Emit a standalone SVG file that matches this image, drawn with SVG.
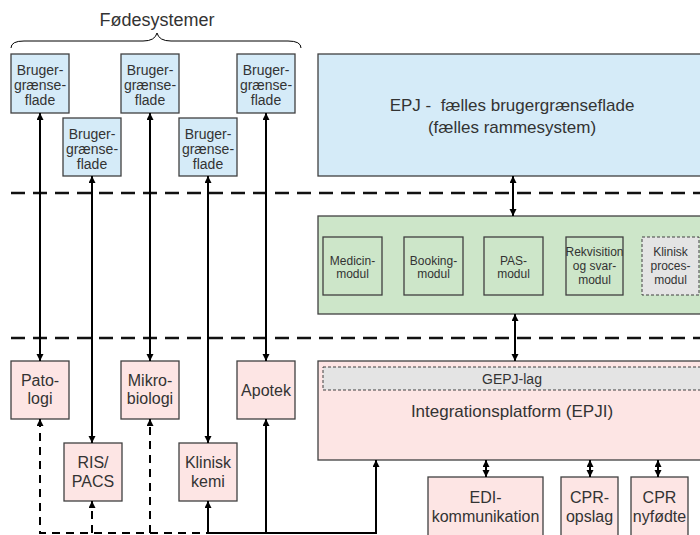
<svg xmlns="http://www.w3.org/2000/svg" width="700" height="535" viewBox="0 0 700 535">
<style>
text{font-family:"Liberation Sans",Arial,sans-serif;fill:#333;text-anchor:middle}
.b{fill:#d5ebf8;stroke:#404040;stroke-width:1.3}
.g{fill:#cde6c9;stroke:#404040;stroke-width:1.3}
.p{fill:#fde5e4;stroke:#404040;stroke-width:1.3}
.gd{fill:#e4e4e4;stroke:#404040;stroke-width:1;stroke-dasharray:3 2}
.t14{font-size:14px}.t16{font-size:16px}.t12{font-size:12px}.t17{font-size:17px}
.sep{stroke:#111;stroke-width:2.5;stroke-dasharray:14 8;fill:none}
.c{stroke:#000;stroke-width:2;fill:none}
.cd{stroke:#000;stroke-width:2;fill:none;stroke-dasharray:8 6}
</style>
<defs>
<marker id="a" markerUnits="userSpaceOnUse" markerWidth="8" markerHeight="8" refX="7" refY="3.5" orient="auto-start-reverse">
<path d="M0,0 L7,3.5 L0,7 z" fill="#000"/>
</marker>
</defs>

<text x="157" y="26" style="font-size:18px">Fødesystemer</text>
<path d="M11,48 Q11,41 24,41 L143,41 Q155,41 157,33 Q159,41 171,41 L288,41 Q301,41 301,48" fill="none" stroke="#000" stroke-width="1"/>

<g id="sep">
<line class="sep" x1="11" y1="193" x2="700" y2="193"/>
<line class="sep" x1="11" y1="338" x2="700" y2="338"/>
</g>

<g id="bg1"><rect class="b" x="11" y="54" width="58" height="59"/><text class="t14" x="40" y="75">Bruger-</text><text class="t14" x="40" y="90">grænse-</text><text class="t14" x="40" y="105">flade</text></g>
<g id="bg2"><rect class="b" x="63" y="118" width="58" height="58"/><text class="t14" x="92" y="139">Bruger-</text><text class="t14" x="92" y="154">grænse-</text><text class="t14" x="92" y="169">flade</text></g>
<g id="bg3"><rect class="b" x="121" y="54" width="58" height="59"/><text class="t14" x="150" y="75">Bruger-</text><text class="t14" x="150" y="90">grænse-</text><text class="t14" x="150" y="105">flade</text></g>
<g id="bg4"><rect class="b" x="179" y="118" width="58" height="58"/><text class="t14" x="208" y="139">Bruger-</text><text class="t14" x="208" y="154">grænse-</text><text class="t14" x="208" y="169">flade</text></g>
<g id="bg5"><rect class="b" x="237" y="54" width="58" height="59"/><text class="t14" x="266" y="75">Bruger-</text><text class="t14" x="266" y="90">grænse-</text><text class="t14" x="266" y="105">flade</text></g>

<g id="epj"><rect class="b" x="318" y="54" width="400" height="122"/><text class="t17" x="512" y="111" xml:space="preserve">EPJ -  fælles brugergrænseflade</text><text class="t17" x="512" y="133">(fælles rammesystem)</text></g>

<g id="moduler"><rect class="g" x="318" y="216" width="400" height="98"/></g>
<g id="medicin"><rect class="g" x="323" y="237" width="59" height="58"/><text class="t12" x="352.5" y="265">Medicin-</text><text class="t12" x="352.5" y="278">modul</text></g>
<g id="booking"><rect class="g" x="404" y="237" width="59" height="58"/><text class="t12" x="433.5" y="265">Booking-</text><text class="t12" x="433.5" y="278">modul</text></g>
<g id="pas"><rect class="g" x="484" y="237" width="59" height="58"/><text class="t12" x="513.5" y="265">PAS-</text><text class="t12" x="513.5" y="278">modul</text></g>
<g id="rekv"><rect class="g" x="566" y="237" width="57" height="58"/><text class="t12" x="594.5" y="256">Rekvisition</text><text class="t12" x="594.5" y="270">og svar-</text><text class="t12" x="594.5" y="284">modul</text></g>
<g id="klinproc"><rect class="gd" x="642" y="237" width="57" height="58"/><text class="t12" x="670.5" y="256">Klinisk</text><text class="t12" x="670.5" y="270">proces-</text><text class="t12" x="670.5" y="284">modul</text></g>

<g id="epji"><rect class="p" x="318" y="361" width="400" height="99"/><rect class="gd" x="323" y="367" width="390" height="23"/><text class="t14" x="512" y="384">GEPJ-lag</text><text class="t17" x="512" y="417">Integrationsplatform (EPJI)</text></g>

<g id="patologi"><rect class="p" x="11" y="361" width="58" height="58"/><text class="t16" x="40" y="386">Pato-</text><text class="t16" x="40" y="404">logi</text></g>
<g id="mikro"><rect class="p" x="121" y="361" width="58" height="58"/><text class="t16" x="150" y="386">Mikro-</text><text class="t16" x="150" y="404">biologi</text></g>
<g id="apotek"><rect class="p" x="237" y="361" width="58" height="58"/><text class="t16" x="266" y="396">Apotek</text></g>
<g id="ris"><rect class="p" x="64" y="443" width="58" height="58"/><text class="t16" x="93" y="468">RIS/</text><text class="t16" x="93" y="487">PACS</text></g>
<g id="kemi"><rect class="p" x="179" y="443" width="58" height="58"/><text class="t16" x="208" y="468">Klinisk</text><text class="t16" x="208" y="487">kemi</text></g>

<g id="edi"><rect class="p" x="428" y="477" width="115" height="70"/><text class="t16" x="485.5" y="503">EDI-</text><text class="t16" x="485.5" y="522">kommunikation</text></g>
<g id="cpr"><rect class="p" x="561" y="477" width="57" height="70"/><text class="t16" x="589.5" y="503">CPR-</text><text class="t16" x="589.5" y="522">opslag</text></g>
<g id="cprny"><rect class="p" x="631" y="477" width="57" height="70"/><text class="t16" x="659.5" y="503">CPR</text><text class="t16" x="659.5" y="522">nyfødte</text></g>

<g id="connectors">
<line class="c" x1="40" y1="113" x2="40" y2="361" marker-start="url(#a)" marker-end="url(#a)"/>
<line class="c" x1="92" y1="176" x2="92" y2="443" marker-start="url(#a)" marker-end="url(#a)"/>
<line class="c" x1="150" y1="113" x2="150" y2="361" marker-start="url(#a)" marker-end="url(#a)"/>
<line class="c" x1="208" y1="176" x2="208" y2="443" marker-start="url(#a)" marker-end="url(#a)"/>
<line class="c" x1="266" y1="113" x2="266" y2="361" marker-start="url(#a)" marker-end="url(#a)"/>
<line class="c" x1="513" y1="176" x2="513" y2="216" marker-start="url(#a)" marker-end="url(#a)"/>
<line class="c" x1="515" y1="314" x2="515" y2="361" marker-start="url(#a)" marker-end="url(#a)"/>
<line class="c" x1="486" y1="460" x2="486" y2="477" marker-start="url(#a)" marker-end="url(#a)"/>
<line class="c" x1="590" y1="460" x2="590" y2="477" marker-start="url(#a)" marker-end="url(#a)"/>
<line class="c" x1="658" y1="460" x2="658" y2="477" marker-start="url(#a)" marker-end="url(#a)"/>
<path class="cd" d="M40,419 L40,533 L208,533" marker-start="url(#a)"/>
<line class="cd" x1="92" y1="533" x2="92" y2="501" marker-end="url(#a)"/>
<line class="cd" x1="150" y1="533" x2="150" y2="419" marker-end="url(#a)"/>
<path class="c" d="M208,501 L208,533 L376,533 L376,460" marker-start="url(#a)" marker-end="url(#a)"/>
<line class="c" x1="266" y1="533" x2="266" y2="419" marker-end="url(#a)"/>
</g>
</svg>
